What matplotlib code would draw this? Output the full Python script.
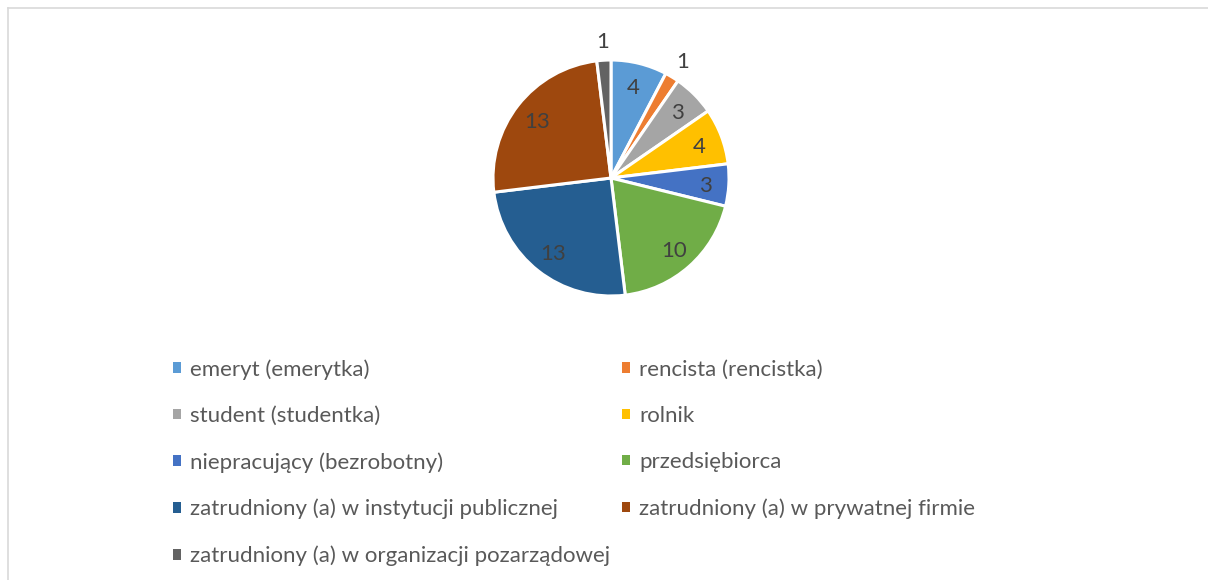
import numpy as np
import matplotlib.pyplot as plt
from matplotlib.lines import Line2D

plt.rcParams['font.family'] = ['Lato', 'DejaVu Sans']

categories = [
    'emeryt (emerytka)',
    'rencista (rencistka)',
    'student (studentka)',
    'rolnik',
    'niepracujący (bezrobotny)',
    'przedsiębiorca',
    'zatrudniony (a) w instytucji publicznej',
    'zatrudniony (a) w prywatnej firmie',
    'zatrudniony (a) w organizacji pozarządowej',
]
counts = [4, 1, 3, 4, 3, 10, 13, 13, 1]
colors = ['#5B9BD5', '#ED7D31', '#A5A5A5', '#FFC000', '#4472C4',
          '#70AD47', '#255E91', '#9E480E', '#636363']

W, H = 1208, 580
fig = plt.figure(figsize=(W / 100, H / 100), dpi=100)

# chart area border (top and left edges only visible)
fig.add_artist(Line2D([8 / W, 8 / W], [0, 1 - 8 / H], color='#D9D9D9', lw=1.2))
fig.add_artist(Line2D([8 / W, 1], [1 - 8 / H, 1 - 8 / H], color='#D9D9D9', lw=1.2))

# pie centered at (611, 178) px, radius 118 px
cx, cy, r = 611, 178, 118
ax = fig.add_axes([(cx - r) / W, (H - cy - r) / H, 2 * r / W, 2 * r / H])
wedges, _ = ax.pie(counts, colors=colors, startangle=90, counterclock=False,
                   wedgeprops=dict(edgecolor='white', linewidth=2.2))
ax.set_xlim(-1, 1)
ax.set_ylim(-1, 1)
ax.set_aspect('equal')
ax.axis('off')

for w, v in zip(wedges, counts):
    mid = np.deg2rad((w.theta1 + w.theta2) / 2)
    d = 1.17 if v == 1 else 0.8
    ax.text(d * np.cos(mid), d * np.sin(mid), str(v), ha='center',
            va='center_baseline', fontsize=16, color='#404040')

# legend laid out row by row in two columns
order = [0, 2, 4, 6, 8, 1, 3, 5, 7]
leg = fig.legend([wedges[i] for i in order], [categories[i] for i in order],
                 ncol=2, loc='upper left', bbox_to_anchor=(173 / W, 1 - 359 / H),
                 frameon=False, fontsize=16, handlelength=0.36, handleheight=0.36,
                 handletextpad=0.4, labelspacing=1.18, columnspacing=0.55,
                 borderpad=0, borderaxespad=0, labelcolor='#595959')
for h in leg.legend_handles:
    h.set_edgecolor('none')

fig.savefig('out.png', dpi=100, facecolor='white')
